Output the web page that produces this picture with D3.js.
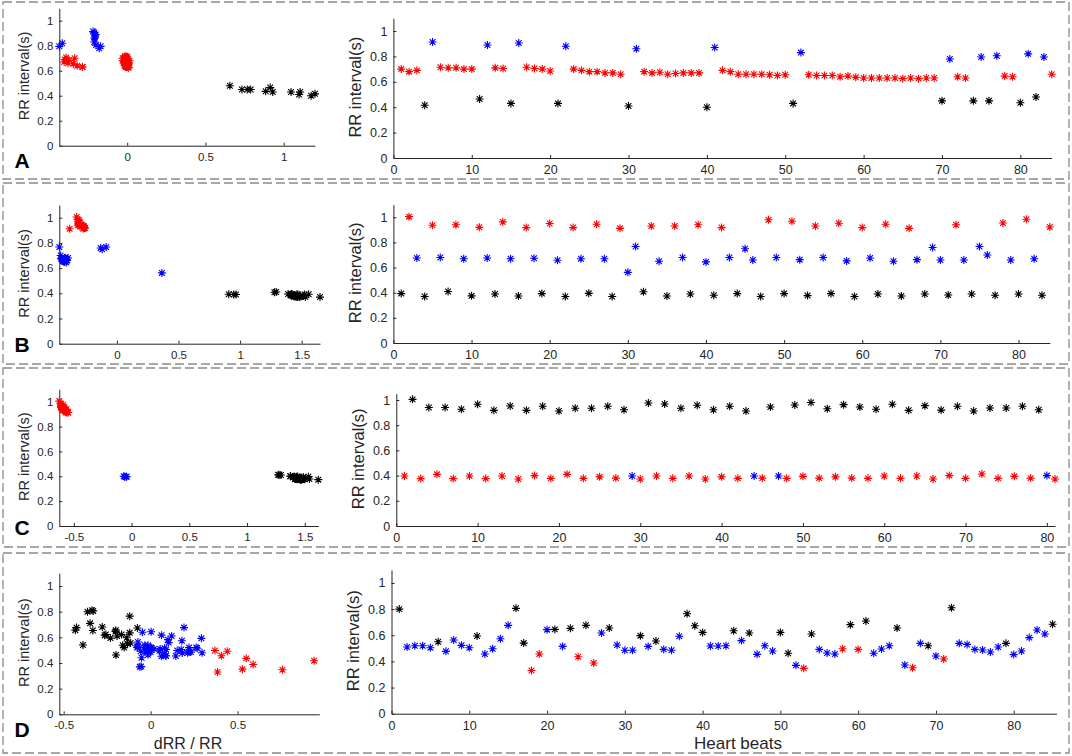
<!DOCTYPE html>
<html>
<head>
<meta charset="utf-8">
<script src="https://cdn.jsdelivr.net/npm/d3@7"></script>
<style>
  body { margin: 0; background: #fff; }
  svg text { font-family: "Liberation Sans", Arial, sans-serif; }
</style>
</head>
<body>
<script>
// RR interval (s) per heart beat
const rrA = [0.70, 0.68, 0.69, 0.415, 0.913, 0.714, 0.71, 0.71, 0.70, 0.70,
  0.465, 0.89, 0.71, 0.705, 0.43, 0.905, 0.715, 0.705, 0.70, 0.685,
  0.43, 0.88, 0.70, 0.69, 0.68, 0.68, 0.67, 0.67, 0.66, 0.41,
  0.86, 0.68, 0.67, 0.675, 0.66, 0.665, 0.67, 0.67, 0.67, 0.40,
  0.87, 0.69, 0.68, 0.66, 0.66, 0.66, 0.66, 0.655, 0.65, 0.655,
  0.43, 0.83, 0.655, 0.65, 0.65, 0.65, 0.64, 0.645, 0.635, 0.63,
  0.63, 0.63, 0.63, 0.63, 0.625, 0.63, 0.625, 0.63, 0.63, 0.45,
  0.78, 0.64, 0.63, 0.45, 0.795, 0.45, 0.805, 0.645, 0.64, 0.435,
  0.82, 0.48, 0.795, 0.66];
const rrB = [0.393, 1.005, 0.676, 0.37, 0.936, 0.68, 0.41, 0.94, 0.67, 0.375,
  0.92, 0.676, 0.39, 0.963, 0.67, 0.374, 0.918, 0.674, 0.393, 0.95,
  0.658, 0.37, 0.918, 0.67, 0.395, 0.944, 0.67, 0.37, 0.912, 0.562,
  0.767, 0.408, 0.93, 0.65, 0.374, 0.93, 0.68, 0.39, 0.94, 0.645,
  0.38, 0.918, 0.68, 0.393, 0.75, 0.66, 0.37, 0.98, 0.68, 0.393,
  0.968, 0.663, 0.377, 0.93, 0.68, 0.393, 0.952, 0.653, 0.37, 0.918,
  0.676, 0.39, 0.944, 0.65, 0.374, 0.912, 0.663, 0.39, 0.76, 0.66,
  0.382, 0.94, 0.66, 0.39, 0.767, 0.70, 0.38, 0.955, 0.66, 0.39,
  0.984, 0.67, 0.38, 0.923];
const rrC = [0.397, 1.005, 0.376, 0.94, 0.41, 0.94, 0.376, 0.926, 0.397, 0.966,
  0.376, 0.918, 0.397, 0.952, 0.373, 0.918, 0.40, 0.95, 0.378, 0.913,
  0.41, 0.934, 0.378, 0.934, 0.39, 0.95, 0.38, 0.923, 0.397, 0.373,
  0.976, 0.397, 0.968, 0.378, 0.934, 0.397, 0.958, 0.373, 0.923, 0.39,
  0.95, 0.378, 0.913, 0.397, 0.38, 0.944, 0.397, 0.378, 0.96, 0.394,
  0.98, 0.38, 0.93, 0.39, 0.963, 0.38, 0.944, 0.378, 0.926, 0.397,
  0.966, 0.378, 0.918, 0.397, 0.955, 0.373, 0.92, 0.40, 0.95, 0.378,
  0.913, 0.413, 0.937, 0.378, 0.937, 0.394, 0.95, 0.38, 0.923, 0.40,
  0.373];
const rrD = [0.80, 0.51, 0.52, 0.52, 0.505, 0.55, 0.477, 0.564, 0.523, 0.505,
  0.594, 0.457, 0.497, 0.573, 0.676, 0.806, 0.54, 0.33, 0.457, 0.643,
  0.645, 0.515, 0.653, 0.436, 0.676, 0.388, 0.617, 0.656, 0.525, 0.485,
  0.485, 0.597, 0.515, 0.556, 0.492, 0.485, 0.592, 0.765, 0.673, 0.622,
  0.518, 0.518, 0.52, 0.635, 0.559, 0.617, 0.454, 0.52, 0.48, 0.622,
  0.462, 0.37, 0.347, 0.61, 0.492, 0.464, 0.457, 0.497, 0.681, 0.492,
  0.709, 0.462, 0.495, 0.52, 0.656, 0.372, 0.352, 0.538, 0.52, 0.441,
  0.418, 0.811, 0.538, 0.53, 0.492, 0.487, 0.472, 0.51, 0.538, 0.452,
  0.48, 0.582, 0.64, 0.61, 0.684];

// cluster of every beat: r = red, b = blue, k = black
const beatColA = "rrrkbrrrrr" + "kbrrkbrrrr" + "kbrrrrrrrk" + "brrrrrrrrk" + "brrrrrrrrr" +
  "kbrrrrrrrr" + "rrrrrrrrrk" + "brrkbkbrrk" + "bkbr";
const beatColB = "krbkrbkrbk" + "rbkrbkrbkr" + "bkrbkrbkrb" + "bkrbkrbkrb" + "krbkbbkrbk" +
  "rbkrbkrbkr" + "bkrbkrbkbb" + "krbkbbkrbk" + "rbkr";
const beatColC = "rkrkrkrkrk" + "rkrkrkrkrk" + "rkrkrkrkbr" + "krkrkrkrkr" + "krkbrkbrkr" +
  "krkrkrkrkr" + "krkrkrkrkr" + "krkrkrkrkb" + "r";
const beatColD = "kbbbbkbbbb" + "kbbbbkkrrb" + "kbkrkrbkbb" + "bkbkbbbkkk" + "bbbkbkbbbk" +
  "kbrkbbbrkr" + "kbbbkbrbkb" + "rkbbbbbbkb" + "bbbbk";

// dRR / RR of every beat (left-hand panels)
const dxA = [-0.029, 0.015, -0.399, 1.200, -0.218, -0.006, 0, -0.014, 0, -0.336,
  0.914, -0.202, -0.007, -0.390, 1.105, -0.210, -0.014, -0.007, -0.021, -0.372,
  1.047, -0.205, -0.014, -0.014, 0, -0.015, 0, -0.015, -0.379, 1.098,
  -0.209, -0.015, 0.007, -0.022, 0.008, 0.008, 0, 0, -0.403, 1.175,
  -0.207, -0.014, -0.029, 0, 0, 0, -0.008, -0.008, 0.008, -0.344,
  0.930, -0.211, -0.008, 0, 0, -0.015, 0.008, -0.016, -0.008, 0,
  0, 0, 0, -0.008, 0.008, -0.008, 0.008, 0, -0.286, 0.733,
  -0.179, -0.016, -0.286, 0.767, -0.434, 0.789, -0.199, -0.008, -0.320, 0.885,
  -0.415, 0.656, -0.170];
const dxB = [1.557, -0.327, -0.453, 1.530, -0.274, -0.397, 1.293, -0.287, -0.440, 1.453,
  -0.265, -0.423, 1.469, -0.304, -0.442, 1.455, -0.266, -0.417, 1.417, -0.307,
  -0.438, 1.481, -0.270, -0.410, 1.390, -0.290, -0.448, 1.465, -0.384, 0.365,
  -0.468, 1.279, -0.301, -0.425, 1.487, -0.269, -0.426, 1.410, -0.314, -0.411,
  1.416, -0.259, -0.422, 0.908, -0.120, -0.439, 1.649, -0.306, -0.422, 1.463,
  -0.315, -0.431, 1.467, -0.269, -0.422, 1.422, -0.314, -0.433, 1.481, -0.264,
  -0.423, 1.421, -0.311, -0.425, 1.439, -0.273, -0.412, 0.949, -0.132, -0.421,
  1.461, -0.298, -0.409, 0.967, -0.087, -0.457, 1.513, -0.309, -0.409, 1.523,
  -0.319, -0.433, 1.429];
const dxC = [1.531, -0.626, 1.500, -0.564, 1.293, -0.600, 1.463, -0.571, 1.433, -0.611,
  1.441, -0.568, 1.398, -0.608, 1.461, -0.564, 1.375, -0.602, 1.415, -0.551,
  1.278, -0.595, 1.471, -0.582, 1.436, -0.600, 1.429, -0.570, -0.060, 1.617,
  -0.593, 1.438, -0.610, 1.471, -0.575, 1.413, -0.611, 1.475, -0.577, 1.436,
  -0.602, 1.415, -0.565, -0.043, 1.484, -0.579, -0.048, 1.540, -0.590, 1.487,
  -0.612, 1.447, -0.581, 1.469, -0.605, 1.484, -0.600, 1.450, -0.571, 1.433,
  -0.609, 1.429, -0.568, 1.406, -0.609, 1.466, -0.565, 1.375, -0.602, 1.415,
  -0.548, 1.269, -0.597, 1.479, -0.580, 1.411, -0.600, 1.429, -0.567, -0.068];
const dxD = [-0.363, 0.020, 0, -0.029, 0.089, -0.133, 0.182, -0.073, -0.034, 0.176,
  -0.231, 0.088, 0.153, 0.180, 0.192, -0.330, -0.389, 0.385, 0.407, 0.003,
  -0.202, 0.268, -0.332, 0.550, -0.426, 0.590, 0.063, -0.200, -0.076, 0,
  0.231, -0.137, 0.080, -0.115, -0.014, 0.221, 0.292, -0.120, -0.076, -0.167,
  0, 0.004, 0.221, -0.120, 0.104, -0.264, 0.145, -0.077, 0.296, -0.257,
  -0.199, -0.062, 0.758, -0.193, -0.057, -0.015, 0.088, 0.370, -0.278, 0.441,
  -0.348, 0.071, 0.051, 0.262, -0.433, -0.054, 0.528, -0.033, -0.152, -0.052,
  0.940, -0.337, -0.015, -0.072, -0.010, -0.031, 0.081, 0.055, -0.160, 0.062,
  0.213, 0.100, -0.047, 0.121];
// panel C left uses the other colouring of the two main clusters
const dxColC = "krkrkrkrkr" + "krkrkrkrkr" + "krkrkrkrbk" + "rkrkrkrkrk" + "rkrbkrbkrk" +
  "rkrkrkrkrk" + "rkrkrkrkrk" + "rkrkrkrkrb";

// axis limits and ticks
const letters = ["A", "B", "C", "D"];
const dxDomains = [[-0.434, 1.2], [-0.468, 1.649], [-0.626, 1.617], [-0.525, 0.97]];
const dxTicks = [[0, 0.5, 1], [0, 0.5, 1, 1.5], [-0.5, 0, 0.5, 1, 1.5], [-0.5, 0, 0.5]];
const beatDomains = [[0, 84], [0, 84], [0, 81], [0, 85.5]];
const beatTicks = [0, 10, 20, 30, 40, 50, 60, 70, 80];
const rrTicks = [0, 0.2, 0.4, 0.6, 0.8, 1];
const rrMaxLeft = [1.1, 1.1, 1.1, 1.1];
const rrMaxRight = [1.1, 1.1, 1.05, 1.1];

const rows = [
  { rr: rrA, col: beatColA, dx: dxA, dxCol: beatColA },
  { rr: rrB, col: beatColB, dx: dxB, dxCol: beatColB },
  { rr: rrC, col: beatColC, dx: dxC, dxCol: dxColC },
  { rr: rrD, col: beatColD, dx: dxD, dxCol: beatColD }
];

// pixel frames [x0, x1, yBottom, yTop]
const frames = [
  { left: [59.3, 315, 145.7, 8.2], right: [393.4, 1051.7, 158, 18.3], box: [2, 179], letterY: 167.5 },
  { left: [59.3, 320, 343.7, 205.1], right: [393.4, 1049.8, 343, 204.7], box: [183, 364], letterY: 351.5 },
  { left: [59.3, 318.3, 526, 389.3], right: [396.3, 1055, 526, 393.7], box: [368, 547], letterY: 535 },
  { left: [59.3, 319.3, 714.3, 573.2], right: [391.5, 1056.5, 713.7, 569.9], box: [553, 753], letterY: 736.5 }
];

const colorOf = { r: "#ff0000", b: "#0000ff", k: "#000000" };
const axisColor = "#262626";

const svg = d3.select("body").append("svg")
  .attr("width", 1072)
  .attr("height", 756);

svg.append("rect").attr("width", 1072).attr("height", 756).attr("fill", "#fff");

// MATLAB-like '*' marker
const s = 4, q = 2.85;
const starPath = `M${-s},0H${s}M0,${-s}V${s}M${-q},${-q}L${q},${q}M${-q},${q}L${q},${-q}`;

const fmt = (d) => String(d);

function drawPanel(frame, xDomain, xTicks, yMax, xs, ys, cols, tickFont, labelFont, labelX) {
  const [x0, x1, yb, yt] = frame;
  const x = d3.scaleLinear().domain(xDomain).range([x0, x1]);
  const y = d3.scaleLinear().domain([0, yMax]).range([yb, yt]);
  const g = svg.append("g");

  const gx = g.append("g")
    .attr("transform", `translate(0,${yb})`)
    .call(d3.axisBottom(x).tickValues(xTicks).tickFormat(fmt)
      .tickSizeInner(-3).tickSizeOuter(0).tickPadding(7));
  const gy = g.append("g")
    .attr("transform", `translate(${x0},0)`)
    .call(d3.axisLeft(y).tickValues(rrTicks).tickFormat(fmt)
      .tickSizeInner(-3).tickSizeOuter(0).tickPadding(6));

  [gx, gy].forEach((a) => {
    a.attr("color", axisColor)
      .attr("font-family", null)
      .attr("font-size", tickFont);
    a.select(".domain").attr("stroke-width", 1);
  });

  g.append("text")
    .attr("transform", `translate(${labelX},${(yb + yt) / 2 - 1}) rotate(-90)`)
    .attr("text-anchor", "middle")
    .attr("dy", "0.35em")
    .attr("font-size", labelFont)
    .attr("fill", axisColor)
    .text("RR interval(s)");

  g.append("g")
    .selectAll("path")
    .data(d3.range(xs.length))
    .join("path")
    .attr("d", starPath)
    .attr("transform", (i) => `translate(${x(xs[i])},${y(ys[i])})`)
    .attr("fill", "none")
    .attr("stroke", (i) => colorOf[cols[i]])
    .attr("stroke-width", 1.1);
}

rows.forEach((row, k) => {
  const f = frames[k];

  // dashed frame round the row
  svg.append("rect")
    .attr("x", 3)
    .attr("y", f.box[0])
    .attr("width", 1066)
    .attr("height", f.box[1] - f.box[0])
    .attr("fill", "none")
    .attr("stroke", "#8a8a8a")
    .attr("stroke-width", 1.3)
    .attr("stroke-dasharray", "9,4");

  // left: RR against dRR/RR
  drawPanel(f.left, dxDomains[k], dxTicks[k], rrMaxLeft[k],
    row.dx, row.rr, row.dxCol, 11.5, 14.5, 23.5);

  // right: RR against beat number
  const beats = row.rr.map((d, i) => i + 1);
  drawPanel(f.right, beatDomains[k], beatTicks, rrMaxRight[k],
    beats, row.rr, row.col, 12.5, 16.5, f.right[0] - 38);

  svg.append("text")
    .attr("x", 14.5)
    .attr("y", f.letterY)
    .attr("font-size", 21)
    .attr("font-weight", "bold")
    .attr("fill", "#000")
    .text(letters[k]);
});

// x labels under the bottom row
svg.append("text")
  .attr("x", 188)
  .attr("y", 749)
  .attr("text-anchor", "middle")
  .attr("font-size", 16)
  .attr("fill", axisColor)
  .text("dRR / RR");

svg.append("text")
  .attr("x", 738)
  .attr("y", 749)
  .attr("text-anchor", "middle")
  .attr("font-size", 17)
  .attr("fill", axisColor)
  .text("Heart beats");
</script>
</body>
</html>
